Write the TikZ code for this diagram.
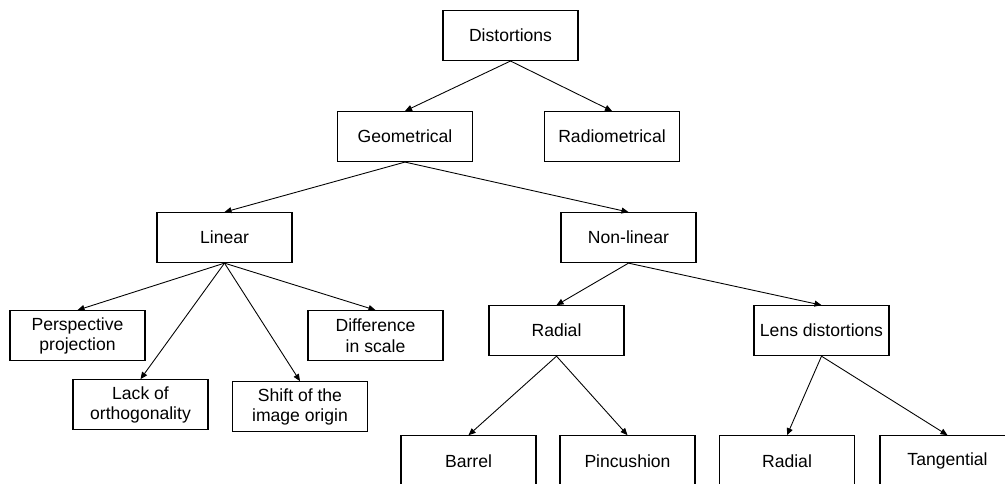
\documentclass[tikz,border=0pt]{standalone}
\usepackage{fontspec}
\setmainfont{Liberation Sans}
\usetikzlibrary{arrows.meta,positioning}

\begin{document}
\begin{tikzpicture}[
  box/.style={draw, line width=0.6pt, minimum width=2.7cm,
    minimum height=1cm, align=center, font=\fontsize{10}{11.5}\selectfont},
  arr/.style={-{Triangle[length=4pt, width=3.4pt]}, line width=0.5pt}
]
  \useasboundingbox (0,0) rectangle (20.1,-9.68);
  \node[box] (dist) at (10.21,-0.71) {Distortions};
  \node[box, below=1cm of dist, xshift=-2.11cm] (geo) {Geometrical};
  \node[box, below=1cm of dist, xshift=2.03cm] (radio) {Radiometrical};
  \node[box, below=1cm of geo, xshift=-3.61cm] (lin) {Linear};
  \node[box, below=1cm of geo, xshift=4.47cm] (nonlin) {Non-linear};
  \node[box, below=0.94cm of lin, xshift=-2.94cm] (persp) {Perspective\\projection};
  \node[box, below=0.94cm of lin, xshift=3.02cm] (diff) {Difference\\in scale};
  \node[box, below=2.32cm of lin, xshift=-1.68cm] (lack) {Lack of\\orthogonality};
  \node[box, below=2.36cm of lin, xshift=1.51cm] (shift) {Shift of the\\image origin};
  \node[box, below=0.84cm of nonlin, xshift=-1.44cm] (radial) {Radial};
  \node[box, below=0.84cm of nonlin, xshift=3.86cm] (lens) {Lens distortions};
  \node[box, below=1.58cm of radial, xshift=-1.76cm] (barrel) {Barrel};
  \node[box, below=1.58cm of radial, xshift=1.42cm] (pin) {Pincushion};
  \node[box, below=1.58cm of lens, xshift=-0.69cm] (lrad) {Radial};
  \node[box, below=1.58cm of lens, xshift=2.52cm] (tang) {Tangential};

  \draw[arr] (dist.south) -- (geo.north);
  \draw[arr] (dist.south) -- (radio.north);
  \draw[arr] (geo.south) -- (lin.north);
  \draw[arr] (geo.south) -- (nonlin.north);
  \draw[arr] (lin.south) -- (persp.north);
  \draw[arr] (lin.south) -- (lack.north);
  \draw[arr] (lin.south) -- (shift.north);
  \draw[arr] (lin.south) -- (diff.north);
  \draw[arr] (nonlin.south) -- (radial.north);
  \draw[arr] (nonlin.south) -- (lens.north);
  \draw[arr] (radial.south) -- (barrel.north);
  \draw[arr] (radial.south) -- (pin.north);
  \draw[arr] (lens.south) -- (lrad.north);
  \draw[arr] (lens.south) -- (tang.north);
\end{tikzpicture}
\end{document}
